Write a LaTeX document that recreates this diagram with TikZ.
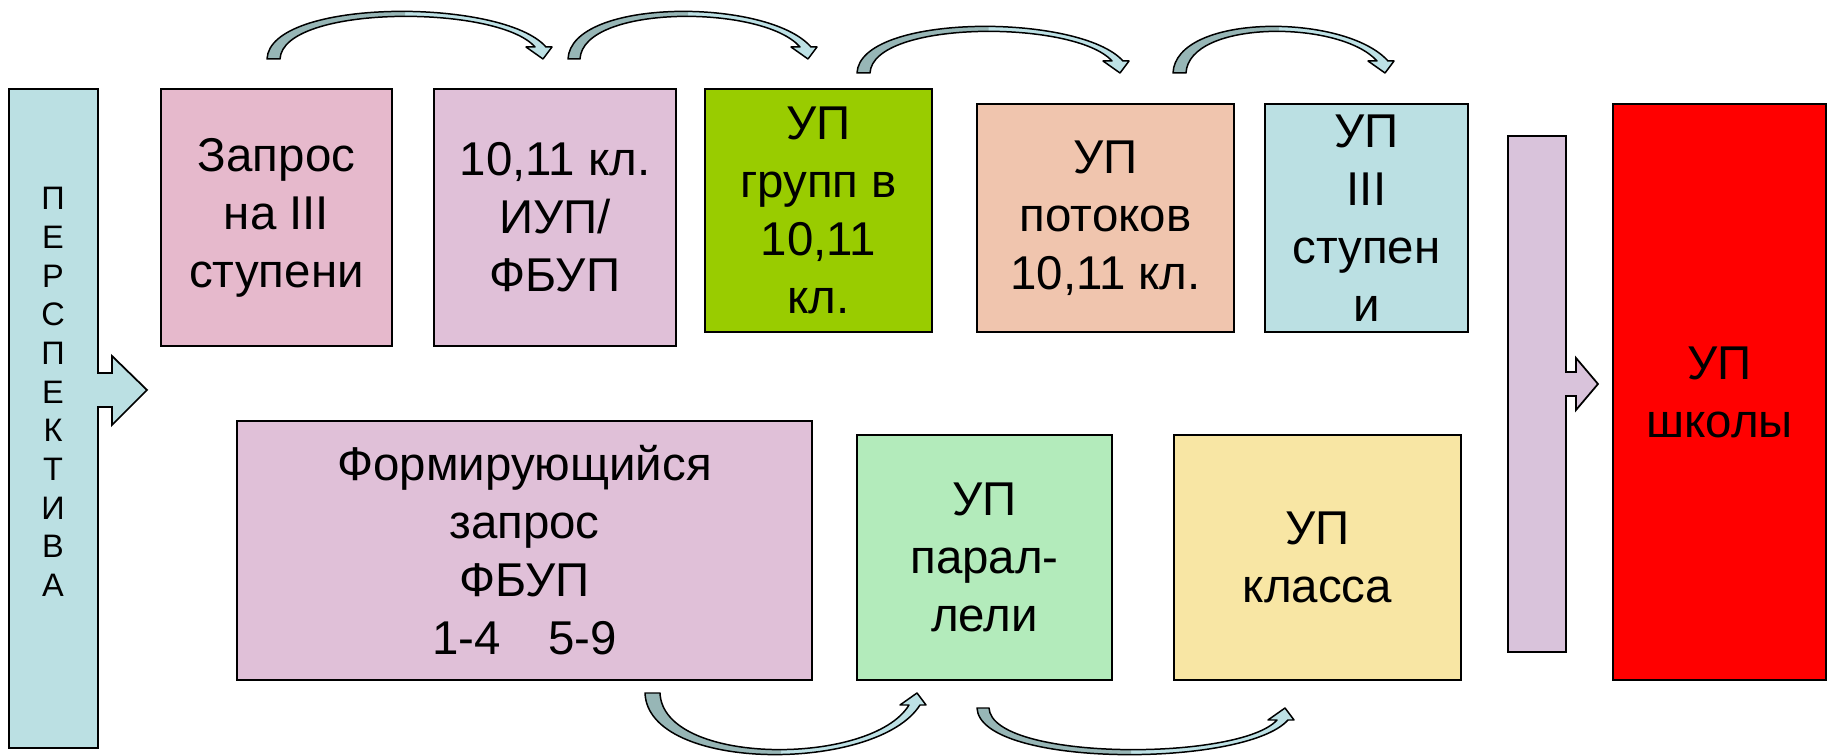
\documentclass[tikz,border=0pt]{standalone}
\usepackage{fontspec}
\setmainfont{Liberation Sans}

\definecolor{barblue}{HTML}{BBE0E3}
\definecolor{zapros}{HTML}{E6B9CC}
\definecolor{lilac}{HTML}{E0C0D8}
\definecolor{grass}{HTML}{99CC00}
\definecolor{peach}{HTML}{F0C5AE}
\definecolor{barlilac}{HTML}{D9C3DB}
\definecolor{mint}{HTML}{B3EBBB}
\definecolor{sand}{HTML}{F8E6A4}
\definecolor{arrowlight}{HTML}{BDE1E5}
\definecolor{arrowdark}{HTML}{97B6B6}

% curved band arrow: tail x, tip x, base y, depth (neg = up), tail width
\newcommand{\bandarrow}[5]{
	\pgfmathsetmacro{\BAs}{sign(#4)}
	\pgfmathsetmacro{\BAyo}{#3+#4/0.75}
	\pgfmathsetmacro{\BAyi}{#3+(#4-5*(\BAs))/0.75}
	\pgfmathsetmacro{\BAyh}{#3+12*(\BAs)}
	\pgfmathsetmacro{\BAxm}{(#1+#2)/2}
	\pgfmathsetmacro{\BAxi}{#1+#5}
	\def\BApath{(#1,#3) .. controls (#1+3,\BAyo) and (#2-40,\BAyo) .. (#2+3,\BAyh) -- (#2+9,\BAyh) -- (#2,#3) -- (#2-17,\BAyh) -- (#2-8,\BAyh) .. controls (#2-45,\BAyi) and (\BAxi+3,\BAyi) .. (\BAxi,#3) -- cycle}
	\fill[arrowlight] \BApath;
	\begin{scope}
		\clip (#1-10,#3-90) rectangle (\BAxm,#3+90);
		\fill[arrowdark] \BApath;
	\end{scope}
	\draw[line width=0.85pt, line join=round] \BApath;
}

\tikzset{
	upbox/.style={draw, line width=1pt, align=center, inner sep=0pt,
		font=\fontsize{27}{33}\selectfont},
}

\begin{document}
\begin{tikzpicture}[x=0.02cm, y=-0.02cm]
\fill[white] (0,0) rectangle (1833,756);
\useasboundingbox (0,0) rectangle (1833,756);

% side bars with their arrows
\draw[fill=barblue, line width=1pt] (9,89) -- (98,89) -- (98,373) -- (112,373) -- (112,356)
	-- (147,390) -- (112,425) -- (112,407) -- (98,407) -- (98,748) -- (9,748) -- cycle;
\node[font=\fontsize{18.5}{22}\selectfont, align=center] (persp) at (53,392)
	{П\\Е\\Р\\С\\П\\Е\\К\\Т\\И\\В\\А};

\draw[fill=barlilac, line width=1pt] (1508,136) -- (1566,136) -- (1566,372) -- (1576,372) -- (1576,358)
	-- (1598,384) -- (1576,410) -- (1576,396) -- (1566,396) -- (1566,652) -- (1508,652) -- cycle;

% top row
\node[upbox, fill=zapros, minimum width=4.62cm, minimum height=5.14cm] (zapros) at (276.5,217.5) {Запрос\\на III\\ступени};
\node[upbox, fill=lilac, minimum width=4.84cm, minimum height=5.14cm] (iup) at (555,217.5) {10,11 кл.\\ИУП/\\ФБУП};
\node[upbox, fill=grass, minimum width=4.54cm, minimum height=4.86cm] (grupp) at (818.5,210.5) {УП\\групп в\\10,11\\кл.};
\node[upbox, fill=peach, minimum width=5.14cm, minimum height=4.56cm] (potok) at (1105.5,218) {УП\\потоков\\10,11 кл.};
\node[upbox, fill=barblue, minimum width=4.06cm, minimum height=4.56cm] (stup) at (1366.5,218) {УП\\III\\ступен\\и};

% bottom row
\node[upbox, fill=lilac, minimum width=11.5cm, minimum height=5.18cm] (form) at (524.5,550.5) {Формирующийся\\запрос\\ФБУП\\1-4\quad 5-9};
\node[upbox, fill=mint, minimum width=5.1cm, minimum height=4.9cm] (paral) at (984.5,557.5) {УП\\парал-\\лели};
\node[upbox, fill=sand, minimum width=5.74cm, minimum height=4.9cm] (klass) at (1317.5,557.5) {УП\\класса};

\node[upbox, fill=red, minimum width=4.26cm, minimum height=11.52cm] (school) at (1719.5,392) {УП\\школы};

% curved arrows
\bandarrow{267}{543}{59}{-46}{13}
\bandarrow{568}{808}{59}{-46}{12}
\bandarrow{857}{1120}{73}{-45}{13}
\bandarrow{1173}{1385}{73}{-45}{13}

\bandarrow{645}{917}{693}{60}{15}
\bandarrow{977}{1285}{708}{45}{12}
\end{tikzpicture}
\end{document}
